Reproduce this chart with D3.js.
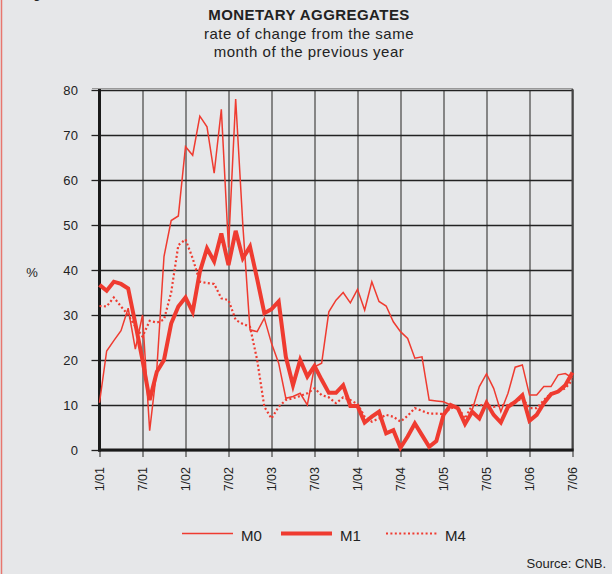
<!DOCTYPE html>
<html>
<head>
<meta charset="utf-8">
<script src="https://cdn.jsdelivr.net/npm/d3@7"></script>
<style>
  body { margin: 0; background: #e6e7e9; }
  .chart text { font-family: "Liberation Sans", Arial, sans-serif; fill: #222; }
</style>
</head>
<body>
<div class="chart"></div>
<script>
"use strict"

// month labels on the x axis (every 6 months)
let tickLabels = ["1/01","7/01","1/02","7/02","1/03","7/03","1/04","7/04","1/05","7/05","1/06","7/06"];
let yTicks = [0,10,20,30,40,50,60,70,80];

// monthly values 1/01 .. 7/06
let m0 = [10.5,22,24.3,26.5,31.5,22.4,30,4.3,18,43,51,52,67.4,65.5,74.2,71.8,61.5,75.7,45,78,
  50,26.7,26.3,29.3,23.7,19.3,11.5,11.9,12.6,10,18.5,19.3,30.7,33.3,35,32.7,35.7,31.1,37.4,33,
  32,28.5,26.3,24.8,20.4,20.7,11.1,10.9,10.7,10,9.6,5.9,8.9,14.1,16.9,13.7,8.5,12.6,18.4,18.9,
  12.2,12.2,14.1,14.1,16.7,17,16];
let m1 = [36.7,35.4,37.4,36.9,35.9,28.1,20,11.1,17.4,20,28.1,31.9,33.9,30.7,39.6,44.8,41.9,48.1,41.1,48.7,
  42.6,45.2,38,30.4,31.3,33,20.7,14.4,20,16.3,18.7,15.6,12.7,12.7,14.4,9.8,9.8,6.1,7.4,8.5,
  3.7,4.4,0.5,3,5.9,3.3,0.7,2,7.8,10,9.3,5.8,8.5,7,10.5,7.8,6.1,9.6,10.7,12.2,
  6.5,7.8,10.4,12.4,13,14.4,17.2];
let m4 = [32,31.9,33.9,31.9,30,27.4,25.2,28.7,28.3,29,35,45.5,46.8,42.6,37.4,37.1,36.9,33.7,33.3,28.9,
  28,27.4,20,9.6,7,9.6,11.1,11.5,12,12.6,13.7,12.2,11.7,10.4,11.7,11.1,10.2,7.4,6.3,7,
  7.8,7.4,6.3,7.6,9.3,8.7,8.1,8.1,8,9.3,9.6,7,10,10,10,9.6,10,10,10.7,11.5,
  9.3,9.3,11.1,12.6,13,13.7,15.6];

let red = "#ef3b30";

let s = d3.select(".chart")
  .append("svg")
  .attr("width", 612)
  .attr("height", 574);

s.append("rect").attr("width", 612).attr("height", 574).attr("fill", "#e6e7e9");
// red frame edge on the left
s.append("line").attr("x1", 1.5).attr("x2", 1.5).attr("y1", 0).attr("y2", 574)
  .attr("stroke", "#e8776f").attr("stroke-width", 1.5);
s.append("text").attr("x", 33).attr("y", -2).attr("font-size", 14).text("g");

// titles
s.append("text").attr("x", 309).attr("y", 20).attr("text-anchor", "middle")
  .attr("font-size", 15).attr("letter-spacing", 0.45).attr("font-weight", "bold")
  .text("MONETARY AGGREGATES");
s.append("text").attr("x", 309).attr("y", 39).attr("text-anchor", "middle")
  .attr("font-size", 15).attr("letter-spacing", 0.5).text("rate of change from the same");
s.append("text").attr("x", 309).attr("y", 57).attr("text-anchor", "middle")
  .attr("font-size", 15).attr("letter-spacing", 0.5).text("month of the previous year");

let x = d3.scaleLinear().domain([0, 66]).range([99.5, 572.5]);
let y = d3.scaleLinear().domain([0, 80]).range([450, 90]);

// vertical grid (grey)
let vg = s.append("g")
  .attr("transform", "translate(0,450)")
  .call(d3.axisBottom(x).tickValues(d3.range(0, 67, 6)).tickSize(-360).tickFormat(""));
vg.select(".domain").remove();
vg.selectAll("line").attr("stroke", "#858585").attr("stroke-width", 2);

// tick marks under the axis
let vt = s.append("g")
  .attr("transform", "translate(0,450)")
  .call(d3.axisBottom(x).tickValues(d3.range(0, 67, 6)).tickSize(7).tickFormat(""));
vt.select(".domain").remove();
vt.selectAll("line").attr("stroke", "#858585").attr("stroke-width", 2);

// horizontal grid (dark)
let hg = s.append("g")
  .attr("transform", "translate(99.5,0)")
  .call(d3.axisLeft(y).tickValues(yTicks).tickSize(-473).tickFormat(""));
hg.select(".domain").remove();
hg.selectAll("line").attr("stroke", "#222").attr("stroke-width", 1.3);

// y axis with labels
let ya = s.append("g")
  .attr("transform", "translate(99.5,0)")
  .call(d3.axisLeft(y).tickValues(yTicks).tickSize(8).tickPadding(13));
ya.select(".domain").remove();
ya.selectAll("line").attr("stroke", "#222").attr("stroke-width", 1.3);
ya.selectAll("text").attr("font-size", 13).attr("letter-spacing", 0.4).attr("fill", "#222")
  .style("font-family", "Liberation Sans, Arial, sans-serif");

// frame lines
s.append("line").attr("x1", 99.5).attr("x2", 99.5).attr("y1", 89).attr("y2", 451.5)
  .attr("stroke", "#1a1a1a").attr("stroke-width", 3);
s.append("line").attr("x1", 572.5).attr("x2", 572.5).attr("y1", 89).attr("y2", 451)
  .attr("stroke", "#444").attr("stroke-width", 2);
s.append("line").attr("x1", 98).attr("x2", 573.5).attr("y1", 450).attr("y2", 450)
  .attr("stroke", "#1a1a1a").attr("stroke-width", 3);
s.append("line").attr("x1", 92).attr("x2", 573).attr("y1", 88.5).attr("y2", 88.5)
  .attr("stroke", "#999").attr("stroke-width", 1);

// x labels, rotated
s.selectAll(".xl")
  .data(tickLabels)
  .enter()
  .append("text")
  .attr("class", "xl")
  .attr("font-size", 12.5)
  .attr("text-anchor", "end")
  .attr("transform", function(d, i) {
    return "translate(" + (x(i * 6) + 4.5) + ",467) rotate(-90)";
  })
  .text(function(d) { return d; });

s.append("text").attr("x", 32).attr("y", 277).attr("text-anchor", "middle")
  .attr("font-size", 13).text("%");

let line = d3.line()
  .x(function(d, i) { return x(i); })
  .y(function(d) { return y(d); });

s.append("path").datum(m4).attr("d", line)
  .attr("fill", "none").attr("stroke", red).attr("stroke-width", 2.2)
  .attr("stroke-dasharray", "2,2.4");
s.append("path").datum(m0).attr("d", line)
  .attr("fill", "none").attr("stroke", red).attr("stroke-width", 1.5)
  .attr("stroke-linejoin", "miter");
s.append("path").datum(m1).attr("d", line)
  .attr("fill", "none").attr("stroke", red).attr("stroke-width", 4)
  .attr("stroke-linejoin", "miter");

// legend
let legend = [
  { name: "M0", w: 1.5, dash: null, x: 182 },
  { name: "M1", w: 4, dash: null, x: 281 },
  { name: "M4", w: 2.2, dash: "2,2.4", x: 386 }
];
let lg = s.selectAll(".lg")
  .data(legend)
  .enter()
  .append("g")
  .attr("class", "lg")
  .attr("transform", function(d) { return "translate(" + d.x + ",533.5)"; });
lg.append("line")
  .attr("x1", 0).attr("x2", 51).attr("y1", 0).attr("y2", 0)
  .attr("stroke", red)
  .attr("stroke-width", function(d) { return d.w; })
  .attr("stroke-dasharray", function(d) { return d.dash; });
lg.append("text").attr("x", 59).attr("y", 7).attr("font-size", 15)
  .text(function(d) { return d.name; });

s.append("text").attr("x", 606).attr("y", 568).attr("text-anchor", "end")
  .attr("font-size", 13).text("Source: CNB.");
</script>
</body>
</html>
